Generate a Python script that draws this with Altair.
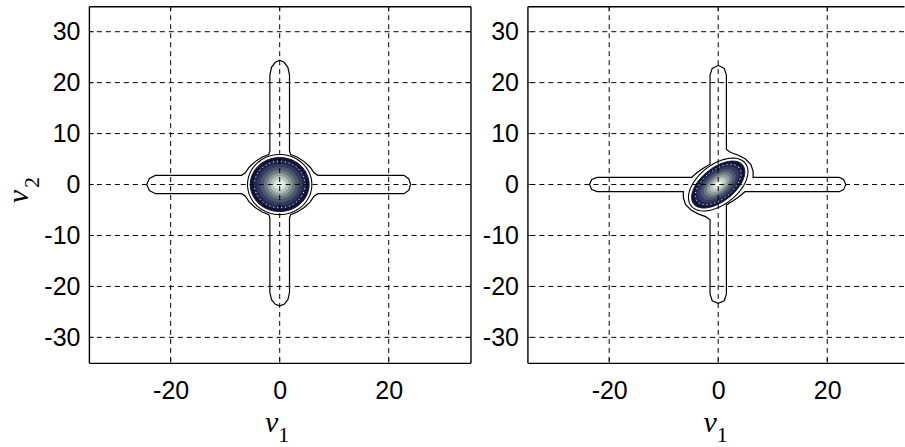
import math
import altair as alt
import pandas as pd

# ---- axes -------------------------------------------------------------
LEFT_DOMAIN = [-35, 35]
RIGHT_DOMAIN = [-35, 34.08]      # right panel runs off the page edge
Y_DOMAIN = [-35, 35]
X_TICKS = [-20, 0, 20]
Y_TICKS = [-30, -20, -10, 0, 10, 20, 30]

# ---- outer (lowest) contour level, traced as closed polygons ----------
LEFT_OUTER_V1 = [24.0, 23.7, 22.8, 7.0, 6.3, 5.6, 4.5, 3.2, 2.0, 1.8,
                 1.8, 1.5, 0.8, 0.0, -0.8, -1.5, -1.8,
                 -1.8, -2.0, -3.2, -4.5, -5.6, -6.3, -7.0,
                 -22.8, -23.9, -24.4, -23.9, -22.8,
                 -7.0, -6.3, -5.6, -4.5, -3.2, -2.0, -1.8,
                 -1.8, -1.5, -0.8, 0.0, 0.8, 1.5, 1.8,
                 1.8, 2.0, 3.2, 4.5, 5.6, 6.3, 7.0,
                 22.8, 23.7, 24.0]
LEFT_OUTER_V2 = [0.0, 1.1, 1.8, 1.8, 2.3, 3.4, 4.5, 5.4, 5.9, 6.6,
                 21.5, 23.0, 24.0, 24.4, 24.0, 23.0, 21.5,
                 6.6, 5.9, 5.4, 4.5, 3.4, 2.3, 1.8,
                 1.8, 1.2, 0.0, -1.2, -1.8,
                 -1.8, -2.3, -3.4, -4.5, -5.4, -5.9, -6.6,
                 -21.2, -22.6, -23.5, -23.8, -23.5, -22.6, -21.2,
                 -6.6, -5.9, -5.4, -4.5, -3.4, -2.3, -1.8,
                 -1.8, -1.1, 0.0]

RIGHT_OUTER_V1 = [23.4, 23.0, 22.2, 6.4, 6.4, 6.0, 5.0, 3.6, 2.3, 1.5,
                  1.5, 1.1, 0.0, -1.1, -1.5,
                  -1.5, -2.6, -3.8, -4.9,
                  -22.2, -23.2, -23.6, -23.2, -22.2,
                  -6.4, -6.4, -6.0, -5.0, -3.6, -2.3, -1.5,
                  -1.5, -1.1, 0.0, 1.1, 1.5,
                  1.5, 2.6, 3.8, 4.9,
                  22.2, 23.0, 23.4]
RIGHT_OUTER_V2 = [0.0, 1.0, 1.4, 1.4, 2.6, 3.9, 5.0, 5.8, 6.3, 6.9,
                  21.5, 22.8, 23.4, 22.8, 21.5,
                  4.0, 3.3, 2.4, 1.4,
                  1.4, 1.0, 0.0, -1.0, -1.4,
                  -1.4, -2.6, -3.9, -5.0, -5.8, -6.3, -6.9,
                  -21.5, -22.8, -23.3, -22.8, -21.5,
                  -4.0, -3.3, -2.4, -1.4,
                  -1.4, -1.0, 0.0]

# ---- central peak: ellipses (centre v1, centre v2, semi-axis a, semi-axis b, tilt deg)
LEFT_RING = [0.0, 0.0, 5.9, 5.9, 0.0]
LEFT_CORE = [0.0, 0.0, 5.4, 5.3, 0.0]
RIGHT_RING = [0.0, 0.0, 6.5, 3.8, 42.0]
RIGHT_CORE = [0.0, 0.0, 5.9, 3.2, 42.0]

# filled levels of the peak, as fractions of the core ellipse, with their shades
CORE_SCALE = [1.00, 0.88, 0.76, 0.64, 0.52, 0.41, 0.30, 0.19, 0.09]
CORE_COLORS = ["#121236", "#20234c", "#333b5e", "#4d5870", "#6c7882",
               "#909e9c", "#b7c5bb", "#dae6dc", "#f5fdf5"]
DOTTED_SCALE = 0.86

W_LEFT, W_RIGHT, H = 382, 377, 357
LABEL_FONT = "Liberation Sans"
TITLE_FONT = "Liberation Serif"
FS = 25


def ellipse_points(spec, k=1.0, steps=96):
    cx, cy, a, b, tilt = spec
    t = math.radians(tilt)
    ct, st = math.cos(t), math.sin(t)
    v1, v2 = [], []
    for s in range(steps + 1):
        u = 2 * math.pi * s / steps
        ex, ey = k * a * math.cos(u), k * b * math.sin(u)
        v1.append(cx + ex * ct - ey * st)
        v2.append(cy + ex * st + ey * ct)
    return v1, v2


def panel(outer_v1, outer_v2, ring, core, x_domain, width, is_left):
    sx = alt.Scale(domain=x_domain, nice=False, zero=False)
    sy = alt.Scale(domain=Y_DOMAIN, nice=False, zero=False)

    frame = dict(grid=False, domain=True, domainColor="black", domainWidth=1.4,
                 ticks=False, title=None, zindex=2)
    lab = dict(labelFont=LABEL_FONT, labelFontSize=FS, labelColor="black",
               labelExpr="'' + datum.value")
    ax_bottom = alt.Axis(orient="bottom", values=X_TICKS, labelPadding=16, **frame, **lab)
    ax_left = alt.Axis(orient="left", values=Y_TICKS, labelPadding=9, **frame, **lab)
    ax_top = alt.Axis(orient="top", values=X_TICKS, labels=False, **frame)
    ax_right = alt.Axis(orient="right", values=Y_TICKS, labels=False, **frame)

    outer_df = pd.DataFrame({"v1": outer_v1, "v2": outer_v2,
                             "i": list(range(len(outer_v1)))})
    r1, r2 = ellipse_points(ring)
    ring_df = pd.DataFrame({"v1": r1, "v2": r2, "i": list(range(len(r1)))})

    rows = []
    for n, (k, col) in enumerate(zip(CORE_SCALE, CORE_COLORS)):
        c1, c2 = ellipse_points(core, k)
        for i, (a, b) in enumerate(zip(c1, c2)):
            rows.append({"lev": f"l{n:02d}", "col": col, "i": i, "v1": a, "v2": b})
    core_df = pd.DataFrame(rows)
    d1, d2 = ellipse_points(core, DOTTED_SCALE)
    dots_df = pd.DataFrame({"v1": d1, "v2": d2, "i": list(range(len(d1)))})

    def xy(axis_x=None, axis_y=None):
        return dict(x=alt.X("v1:Q", scale=sx, axis=axis_x),
                    y=alt.Y("v2:Q", scale=sy, axis=axis_y))

    outer = alt.Chart(outer_df).mark_line(color="black", strokeWidth=1.2).encode(
        **xy(ax_bottom, ax_left), order="i:Q")
    frame_tr = alt.Chart(outer_df).mark_point(opacity=0).encode(
        **xy(ax_top, ax_right if is_left else None))
    ring_l = alt.Chart(ring_df).mark_line(color="black", strokeWidth=1.1).encode(
        **xy(), order="i:Q")
    core_l = alt.Chart(core_df).mark_line(strokeWidth=1).encode(
        **xy(), order="i:Q", detail="lev:N",
        fill=alt.Fill("col:N", scale=None),
        stroke=alt.Stroke("col:N", scale=None))
    dots_l = alt.Chart(dots_df).mark_line(color="white", strokeWidth=1,
                                          strokeDash=[1, 3]).encode(**xy(), order="i:Q")

    xt = pd.DataFrame({"g": X_TICKS})
    yt = pd.DataFrame({"g": Y_TICKS})
    dash = dict(color="black", strokeWidth=1, strokeDash=[5, 4])
    vgrid = alt.Chart(xt).mark_rule(**dash).encode(x=alt.X("g:Q", scale=sx, axis=None))
    hgrid = alt.Chart(yt).mark_rule(**dash).encode(y=alt.Y("g:Q", scale=sy, axis=None))

    # inward tick marks on the frame
    tk = dict(color="black", thickness=1, size=5)
    t_bottom = alt.Chart(xt).mark_tick(orient="vertical", **tk).encode(
        x=alt.X("g:Q", scale=sx, axis=None), y=alt.value(H - 2.5))
    t_top = alt.Chart(xt).mark_tick(orient="vertical", **tk).encode(
        x=alt.X("g:Q", scale=sx, axis=None), y=alt.value(2.5))
    t_left = alt.Chart(yt).mark_tick(orient="horizontal", **tk).encode(
        y=alt.Y("g:Q", scale=sy, axis=None), x=alt.value(2.5))
    ticks = [t_bottom, t_top, t_left]
    if is_left:
        ticks.append(alt.Chart(yt).mark_tick(orient="horizontal", **tk).encode(
            y=alt.Y("g:Q", scale=sy, axis=None), x=alt.value(width - 2.5)))

    nu_x = alt.Chart(pd.DataFrame({"t": ["ν"]})).mark_text(
        font=TITLE_FONT, fontStyle="italic", fontSize=30, color="black",
        align="center", baseline="middle", dx=-8).encode(
        text="t:N", x=alt.X(datum=0, scale=sx, axis=None), y=alt.value(H + 60))
    sub_x = alt.Chart(pd.DataFrame({"t": ["1"]})).mark_text(
        font=TITLE_FONT, fontSize=22, color="black",
        align="center", baseline="middle", dx=4).encode(
        text="t:N", x=alt.X(datum=0, scale=sx, axis=None), y=alt.value(H + 72))

    layers = [outer, ring_l, core_l, dots_l, vgrid, hgrid] + ticks + [frame_tr, nu_x, sub_x]
    if is_left:
        nu_y = alt.Chart(pd.DataFrame({"t": ["ν"]})).mark_text(
            font=TITLE_FONT, fontStyle="italic", fontSize=30, color="black",
            align="center", baseline="middle", angle=270).encode(
            text="t:N", x=alt.value(-70), y=alt.value(H / 2 + 12))
        sub_y = alt.Chart(pd.DataFrame({"t": ["2"]})).mark_text(
            font=TITLE_FONT, fontSize=22, color="black",
            align="center", baseline="middle", angle=270).encode(
            text="t:N", x=alt.value(-57), y=alt.value(H / 2 - 2))
        # fixes the top-left corner of the whole figure
        anchor = alt.Chart(pd.DataFrame({"a": [0]})).mark_rect(opacity=0).encode(
            x=alt.value(-89), x2=alt.value(-88), y=alt.value(-6), y2=alt.value(-5))
        layers += [nu_y, sub_y, anchor]

    return alt.layer(*layers).resolve_axis(x="independent", y="independent").properties(
        width=width, height=H)


left = panel(LEFT_OUTER_V1, LEFT_OUTER_V2, LEFT_RING, LEFT_CORE,
             LEFT_DOMAIN, W_LEFT, True)
right = panel(RIGHT_OUTER_V1, RIGHT_OUTER_V2, RIGHT_RING, RIGHT_CORE,
              RIGHT_DOMAIN, W_RIGHT, False)

chart = alt.hconcat(left, right, spacing=57, bounds="flush").properties(
    padding=0,
    background="white",
).configure_view(stroke=None)

chart.save("out.html", embed_options={"renderer": "svg", "actions": False})
